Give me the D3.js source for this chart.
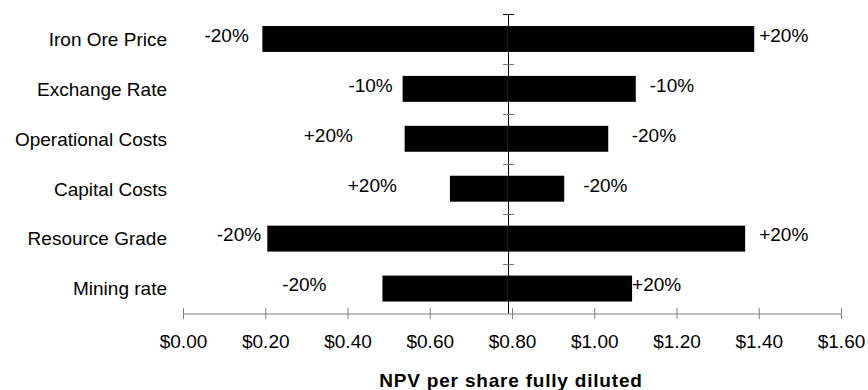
<!DOCTYPE html>
<html>
<head>
<meta charset="utf-8">
<script src="https://cdn.jsdelivr.net/npm/d3@7"></script>
<style>
  html, body { margin: 0; padding: 0; background: #fff; }
  svg { display: block; font-family: "Liberation Sans", Arial, sans-serif; }
</style>
</head>
<body>
<div id="chart"></div>
<script>
// ---- data ----
const categories = ["Iron Ore Price", "Exchange Rate", "Operational Costs", "Capital Costs", "Resource Grade", "Mining rate"];
const baseValue = 0.79;
const lowValues  = [0.193, 0.534, 0.539, 0.649, 0.205, 0.485];
const highValues = [1.389, 1.101, 1.034, 0.927, 1.367, 1.092];
const lowLabels  = ["-20%", "-10%", "+20%", "+20%", "-20%", "-20%"];
const highLabels = ["+20%", "-10%", "-20%", "-20%", "+20%", "+20%"];
// data-label anchors in NPV units (where Excel placed the labels)
const lowLabelAt  = [0.160, 0.510, 0.413, 0.520, 0.190, 0.349];
const highLabelAt = [1.401, 1.135, 1.091, 0.973, 1.401, 1.092];
const xTicks = [0, 0.2, 0.4, 0.6, 0.8, 1.0, 1.2, 1.4, 1.6];
const xTitle = "NPV per share fully diluted";

// ---- layout ----
const W = 868, H = 390;
const plot = { left: 183, right: 841, top: 14, bottom: 313.5 };
const fs = 19;

const svg = d3.select("#chart").append("svg").attr("width", W).attr("height", H);

const x = d3.scaleLinear().domain([0, 1.6]).range([plot.left, plot.right]);
const y = d3.scaleBand().domain(categories).range([plot.top, plot.bottom]).padding(0);
const barH = y.bandwidth() * 0.52;
const cy = c => y(c) + y.bandwidth() / 2;

// bars (two halves around base value)
const rows = categories.map((c, i) => ({ c, lo: lowValues[i], hi: highValues[i], ll: lowLabels[i], hl: highLabels[i], la: lowLabelAt[i], ha: highLabelAt[i] }));
const bars = svg.append("g");
rows.forEach(r => {
  [[r.lo, baseValue], [baseValue, r.hi]].forEach(([a, b]) => {
    bars.append("rect")
      .attr("x", x(Math.min(a, b)))
      .attr("width", Math.abs(x(b) - x(a)))
      .attr("y", cy(r.c) - barH / 2)
      .attr("height", barH)
      .attr("fill", "#000");
  });
});

// data labels
const lab = svg.append("g").attr("font-size", fs).attr("fill", "#000");
rows.forEach(r => {
  lab.append("text").attr("x", x(r.la)).attr("y", cy(r.c) - 4 + 6.8).attr("text-anchor", "end").text(r.ll);
  lab.append("text").attr("x", x(r.ha)).attr("y", cy(r.c) - 4 + 6.8).attr("text-anchor", "start").text(r.hl);
});

// x axis
const xAxis = d3.axisBottom(x).tickValues(xTicks).tickFormat(d => "$" + d3.format(".2f")(d))
  .tickSize(5.5).tickSizeOuter(0).tickPadding(15.5);
const gx = svg.append("g").attr("transform", `translate(0,${plot.bottom})`).call(xAxis);
gx.select(".domain").attr("stroke", "#808080");
gx.selectAll(".tick line").attr("y1", -5.5).attr("y2", 5.5).attr("stroke", "#808080");
gx.selectAll(".tick text").attr("font-size", fs).attr("font-family", "Liberation Sans, Arial, sans-serif").attr("fill", "#000");

// vertical axis at base value
const vx = Math.round(x(baseValue)) + 0.5;
const gy = svg.append("g");
gy.append("line").attr("x1", vx).attr("x2", vx).attr("y1", plot.top).attr("y2", plot.bottom).attr("stroke", "#000");
const bounds = categories.map(c => y(c)).concat([plot.bottom]);
bounds.forEach((b, i) => {
  if (i === bounds.length - 1) return;
  gy.append("line").attr("x1", vx - 5.5).attr("x2", vx + 5.5)
    .attr("y1", Math.round(b) + 0.5).attr("y2", Math.round(b) + 0.5)
    .attr("stroke", i === 0 ? "#000" : "#777");
});

// category labels
svg.append("g").attr("font-size", fs).attr("fill", "#000")
  .selectAll("text").data(categories).join("text")
  .attr("x", 167).attr("y", d => cy(d) + 6.8).attr("text-anchor", "end").text(d => d);

// axis title
svg.append("text").attr("x", (plot.left + plot.right) / 2 - 1).attr("y", 386.5)
  .attr("text-anchor", "middle").attr("font-size", fs).attr("font-weight", "bold")
  .attr("letter-spacing", 0.8).text(xTitle);
</script>
</body>
</html>
